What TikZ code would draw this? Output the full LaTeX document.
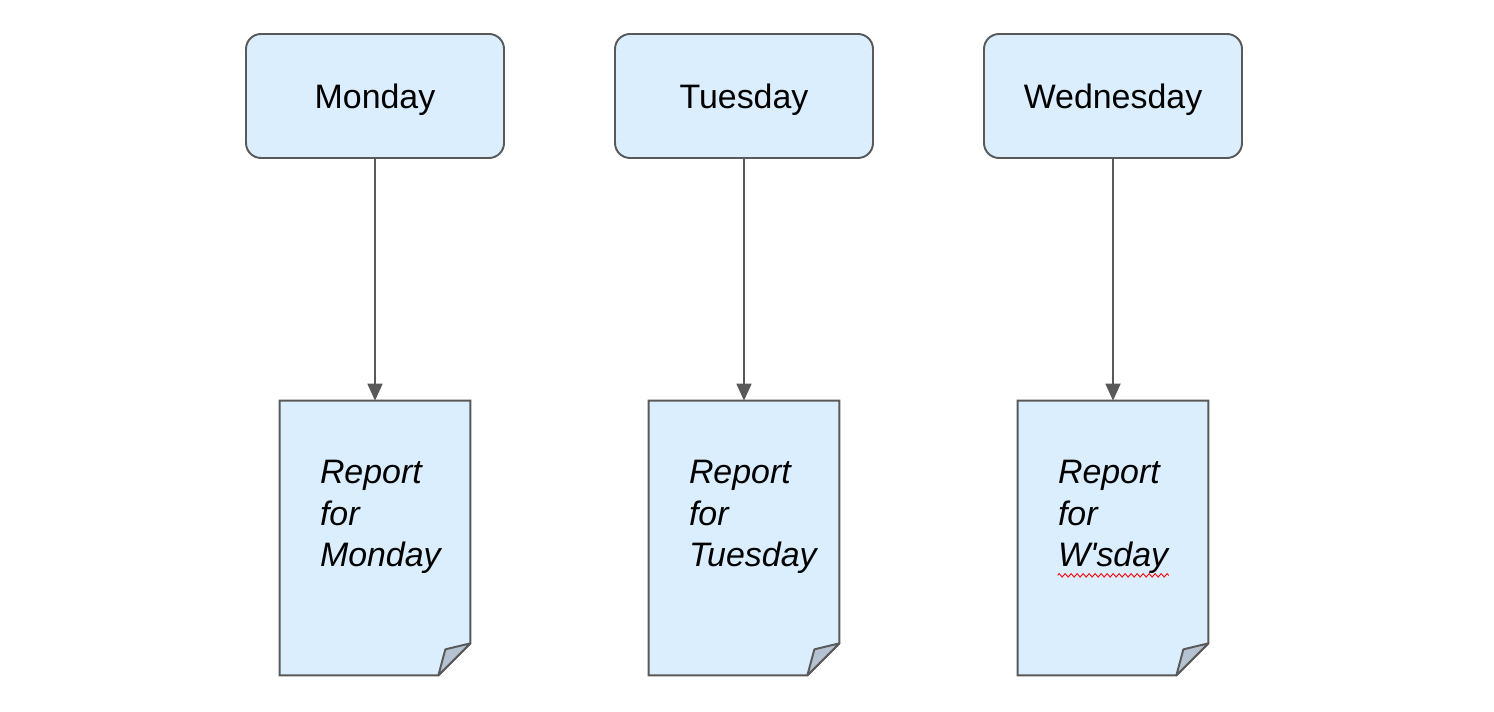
\documentclass[tikz,border=0pt]{standalone}
\usepackage{fontspec}
\setmainfont{Liberation Sans}
\usepackage{tikz}
\usetikzlibrary{arrows.meta,positioning,calc,decorations.pathmorphing}
\definecolor{paleblue}{HTML}{DAEEFD}
\definecolor{edgegrey}{HTML}{595959}
\definecolor{foldgrey}{HTML}{B5C2D1}
\tikzset{
  day box/.style={
    draw=edgegrey,
    fill=paleblue,
    line width=1.1pt,
    rounded corners=0.3cm,
    minimum width=5.16cm,
    minimum height=2.48cm,
    inner sep=0pt,
    text depth=0pt,
    font=\fontsize{19.3}{23.8}\selectfont
  },
  report sheet/.style={
    shape=rectangle,
    minimum width=3.8cm,
    minimum height=5.48cm,
    inner sep=0pt
  },
  sheet edge/.style={
    draw=edgegrey,
    fill=paleblue,
    line width=1.1pt
  },
  fold/.style={
    draw=edgegrey,
    fill=foldgrey,
    line width=1.1pt,
    line join=round
  },
  report text/.style={
    anchor=north west,
    inner sep=0pt,
    align=left,
    font=\fontsize{19.3}{23.8}\selectfont\itshape
  },
  spell mark/.style={
    red,
    line width=0.5pt,
    decorate,
    decoration={zigzag, amplitude=0.035cm, segment length=0.12cm}
  }
}

\begin{document}
\begin{tikzpicture}[%
            >={Triangle[width=0.3cm,length=0.34cm]},
            on grid,
            node distance=8.84cm and 7.38cm]
    \useasboundingbox (0,0) rectangle (29.88,-14.24);
    \node[day box] (mon) at (7.5,-1.92) {Monday};
    \node[day box] (tue) [right=of mon] {Tuesday};
    \node[day box] (wed) [right=of tue] {Wednesday};
    \node[report sheet] (monR) [below=of mon] {};
    \node[report sheet] (tueR) [below=of tue] {};
    \node[report sheet] (wedR) [below=of wed] {};
    % sheets with the folded corner
    \foreach \sheet in {monR,tueR,wedR} {
      \draw[sheet edge] (\sheet.north west) -- (\sheet.north east)
        -- ($(\sheet.south east)+(0,0.64)$) -- ($(\sheet.south east)+(-0.64,0)$)
        -- (\sheet.south west) -- cycle;
      \draw[fold] ($(\sheet.south east)+(0,0.64)$) -- ($(\sheet.south east)+(-0.5,0.52)$)
        -- ($(\sheet.south east)+(-0.64,0)$) -- cycle;
    }
    \node[report text] (monT) at ($(monR.north west)+(0.8,-1.18)$) {Report\\for\\Monday};
    \node[report text] (tueT) at ($(tueR.north west)+(0.8,-1.18)$) {Report\\for\\Tuesday};
    \node[report text] (wedT) at ($(wedR.north west)+(0.8,-1.18)$) {Report\\for\\W\textquotesingle sday};
    \draw[spell mark] ($(wedT.south west)+(0,-0.02)$) -- ++(2.22,0);
    \path[->, color=edgegrey, line width=1pt]
    (mon) edge (monR)
    (tue) edge (tueR)
    (wed) edge (wedR);
\end{tikzpicture}
\end{document}
